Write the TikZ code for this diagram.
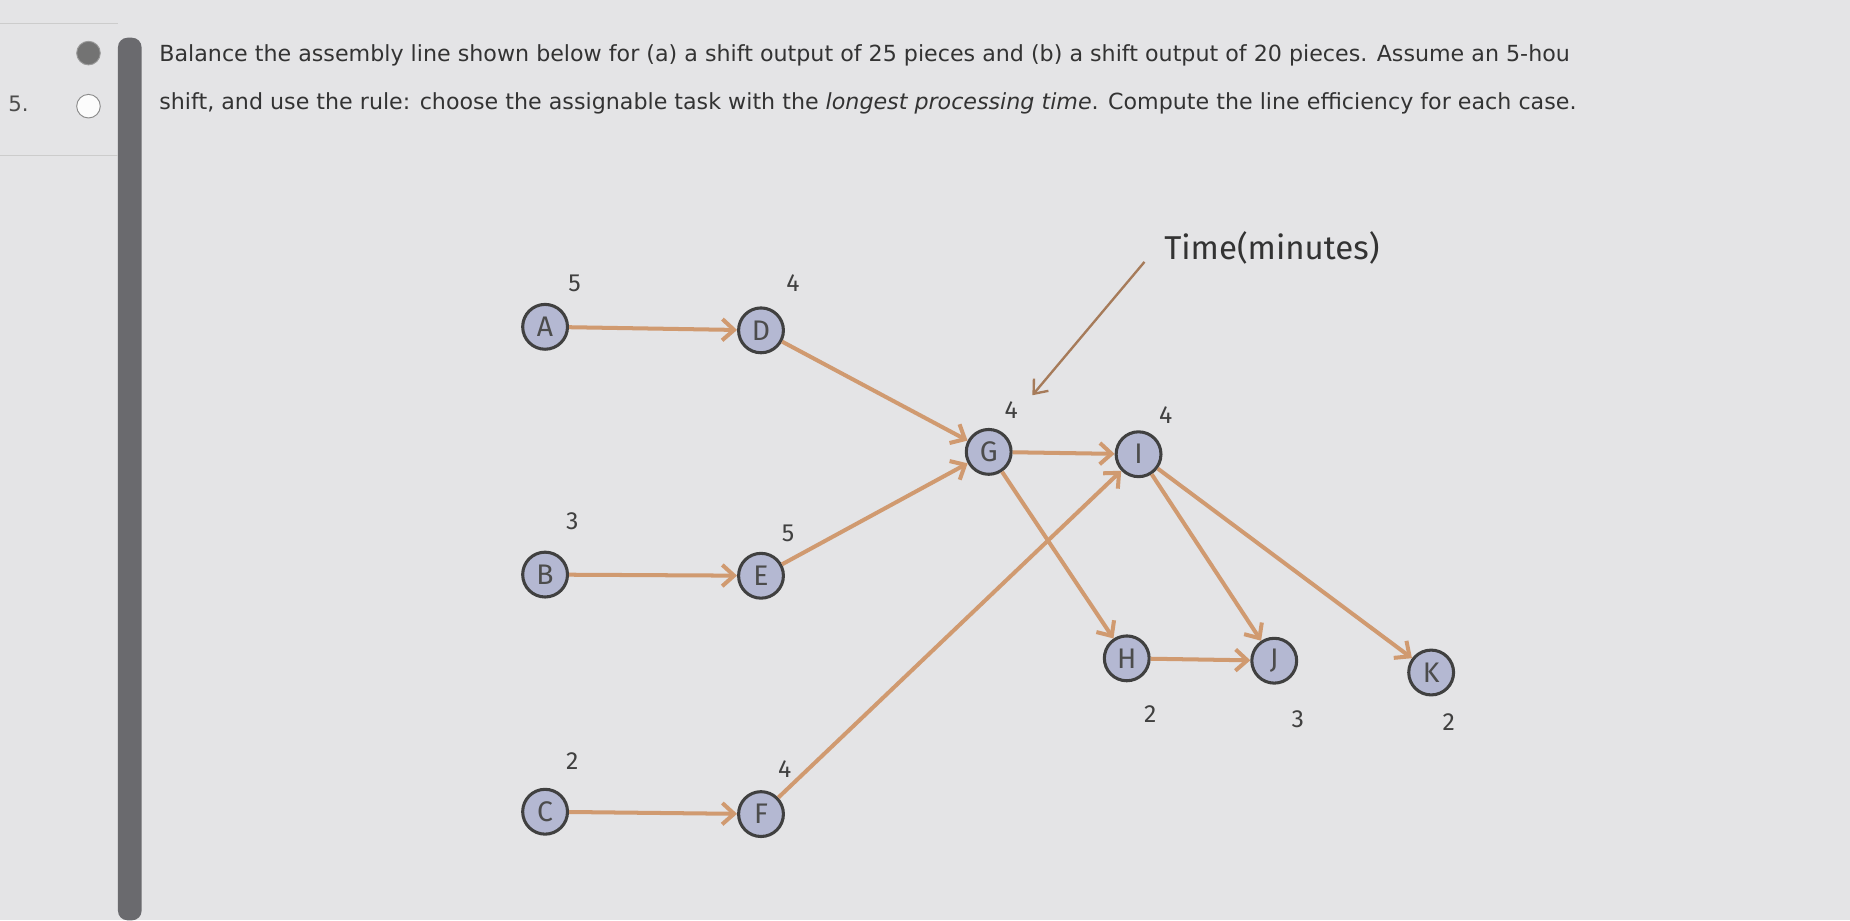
\documentclass[tikz,border=0pt]{standalone}
\usepackage{fontspec}
\setmainfont{DejaVu Sans}
\newfontfamily\lab{Fira Sans}
\usetikzlibrary{arrows.meta}
\definecolor{bg}{HTML}{E4E4E6}
\definecolor{nfill}{HTML}{B4B8D2}
\definecolor{edge}{HTML}{D09A70}
\definecolor{bar}{HTML}{6A6A6E}
\tikzset{
 task/.style={circle,draw=black!75,line width=1.3pt,fill=nfill,minimum size=19pt,inner sep=0pt,font=\lab\fontsize{12}{12}\selectfont,text=black!70},
 tm/.style={font=\lab\fontsize{10.5}{10.5}\selectfont,text=black!75},
 flow/.style={draw=edge,line width=1.7pt,-{Straight Barb[length=5pt,width=9pt]}},
 qtext/.style={anchor=west,font=\fontsize{9.4}{11}\selectfont,text=black!80}
}
\begin{document}
\begin{tikzpicture}[x=0.5pt,y=-0.5pt]
\useasboundingbox[fill=bg] (0,0) rectangle (1568,780);
\fill[bar,rounded corners=4pt] (100,32) rectangle (120,780);
\draw[black!20] (0,20) -- (100,20) (0,132) -- (100,132);
\node[circle,fill=black!55,draw=black!40,minimum size=10pt,inner sep=0pt] (r1) at (75,45) {};
\node[circle,draw=black!45,fill=white!90!bg,minimum size=10pt,inner sep=0pt] (r2) at (75,90) {};
\node[anchor=west,font=\fontsize{9}{9}\selectfont,text=black!70] (n1) at (0,88) {5.};
\node[qtext] (q1) at (128,47) {Balance the assembly line shown below for (a) a shift output of 25 pieces and (b) a shift output of 20 pieces. Assume an 5-hou};
\node[qtext] (q2) at (128,88) {shift, and use the rule: choose the assignable task with the \textit{longest processing time}. Compute the line efficiency for each case.};
\node[task] (A) at (462,277) {A};
\node[task] (D) at (645,280) {D};
\node[task] (B) at (462,487) {B};
\node[task] (E) at (645,488) {E};
\node[task] (C) at (462,688) {C};
\node[task] (F) at (645,690) {F};
\node[task] (G) at (838,383) {G};
\node[task] (I) at (965,385) {I};
\node[task] (H) at (955,558) {H};
\node[task] (J) at (1080,560) {J};
\node[task] (K) at (1213,570) {K};
\node[tm] at (487,240) {5};
\node[tm] at (672,240) {4};
\node[tm] at (857,348) {4};
\node[tm] at (988,352) {4};
\node[tm] at (485,442) {3};
\node[tm] at (668,452) {5};
\node[tm] at (485,645) {2};
\node[tm] at (665,652) {4};
\node[tm] at (975,605) {2};
\node[tm] at (1100,610) {3};
\node[tm] at (1228,612) {2};
\node[font=\lab\fontsize{14}{14}\selectfont,text=black!80] (tl) at (1078,210) {Time(minutes)};
\coordinate (ts) at (970,222);
\coordinate (te) at (875,335);
\draw[draw=edge!80!black,line width=1pt,-{Straight Barb[length=5pt,width=8pt]}] (ts) -- (te);
\draw[flow] (A) -- (D);
\draw[flow] (B) -- (E);
\draw[flow] (C) -- (F);
\draw[flow] (D) -- (G);
\draw[flow] (E) -- (G);
\draw[flow] (F) -- (I);
\draw[flow] (G) -- (I);
\draw[flow] (G) -- (H);
\draw[flow] (I) -- (J);
\draw[flow] (I) -- (K);
\draw[flow] (H) -- (J);
\end{tikzpicture}
\end{document}
